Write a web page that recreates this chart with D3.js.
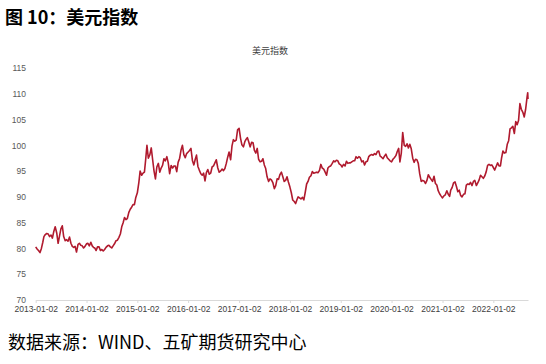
<!DOCTYPE html>
<html><head><meta charset="utf-8">
<script src="https://cdn.jsdelivr.net/npm/d3@7"></script>
<style>
html,body{margin:0;padding:0;background:#fff;}
svg{display:block;}
</style></head>
<body>
<svg id="c" width="546" height="364"></svg>
<script>
// Data: DXY, three readings per month (days 2, 12, 22)
const startMonth = "2013-01";
const sampleDays = [2, 12, 22];
const values = [
// 2013
80.3,79.9,79.6, 79.2,80.0,81.2, 82.3,82.7,82.9, 82.8,82.3,82.6, 82.0,83.3,84.2, 83.0,81.0,82.4,
83.8,84.4,82.3, 81.5,81.7,81.4, 82.2,81.0,80.4, 80.2,80.4,79.3, 80.8,81.0,80.6, 80.5,80.1,80.4,
// 2014
80.9,81.0,80.5, 81.2,80.5,80.2, 80.1,79.6,80.3, 80.3,79.6,79.8, 79.5,79.8,80.2, 80.5,80.6,80.3,
80.1,80.5,80.9, 81.5,81.6,82.1, 82.8,84.2,85.0, 86.0,85.6,85.8, 87.0,87.6,88.0, 88.5,88.5,89.9,
// 2015
90.8,92.6,95.0, 94.2,94.6,94.8, 97.0,100.0,97.5, 98.2,99.5,97.2, 95.0,93.5,95.8, 96.5,94.8,95.6,
96.1,97.4,97.0, 97.8,96.6,94.5, 96.1,95.6,96.0, 96.0,94.9,96.7, 97.5,99.1,100.0, 98.2,97.6,98.4,
// 2016
98.7,99.0,99.4, 97.0,96.2,97.3, 98.1,95.9,95.2, 94.5,94.2,94.6, 93.1,94.7,95.3, 94.4,94.6,95.8,
96.0,96.6,97.2, 95.6,94.8,95.0, 95.4,95.1,95.5, 96.5,97.7,98.7, 97.2,99.9,101.1, 100.8,101.0,103.0,
// 2017
103.3,101.4,100.1, 99.7,100.7,101.2, 101.5,100.7,99.7, 100.6,100.5,99.0, 98.5,99.4,97.3, 96.8,96.9,97.4,
96.2,95.5,93.9, 93.0,93.5,93.3, 92.7,91.6,92.2, 93.5,93.4,94.3, 94.8,93.9,93.0, 93.2,93.9,92.9,
// 2018
91.9,90.8,89.4, 89.1,88.7,89.5, 90.0,89.8,89.6, 89.9,89.4,90.9, 92.5,93.0,93.8, 94.1,94.9,94.6,
94.7,94.8,94.7, 95.1,96.3,95.6, 95.4,94.8,94.2, 95.6,95.9,96.0, 96.5,97.0,96.8, 97.1,97.0,96.4,
// 2019
96.2,95.8,96.3, 96.0,96.9,96.5, 96.6,96.6,96.8, 97.0,97.0,97.8, 97.5,97.8,97.6, 96.8,97.0,96.2,
96.8,96.9,97.8, 98.1,98.2,98.1, 98.4,98.2,98.8, 98.9,97.9,97.7, 97.4,97.9,98.3, 97.6,97.3,97.0,
// 2020
96.8,97.3,97.6, 98.0,98.8,99.4, 96.8,98.5,102.5, 100.0,99.8,100.3, 99.5,100.2,99.4, 97.5,96.7,97.3,
97.2,96.5,94.5, 93.0,93.2,93.1, 92.6,93.2,94.3, 93.8,93.4,93.0, 94.0,92.6,92.3, 91.2,90.6,90.2,
// 2021
89.8,90.2,90.4, 91.2,90.5,90.1, 91.3,91.8,92.7, 92.9,92.0,91.0, 91.3,90.3,90.0, 90.5,90.6,92.3,
92.5,92.4,92.8, 92.2,93.0,93.2, 92.2,92.7,93.3, 94.2,93.9,93.6, 94.1,94.9,96.1, 96.3,96.1,96.2,
// 2022
95.7,95.2,95.9, 96.6,96.0,96.0, 97.5,98.9,98.5, 98.6,100.2,100.9, 103.2,103.4,103.7, 102.3,104.6,104.0,
104.8,108.1,107.0, 106.4,105.5,107.0
];
const tailDates = ["2022-09-02","2022-09-06","2022-09-08"];
const tailValues = [109.5,110.2,109.0];
const yTicks = [70,75,80,85,90,95,100,105,110,115];
const xTickLabels = ["2013-01-02","2014-01-02","2015-01-02","2016-01-02","2017-01-02","2018-01-02","2019-01-02","2020-01-02","2021-01-02","2022-01-02"];

const parse = d3.timeParse("%Y-%m-%d");
const start = d3.timeParse("%Y-%m")(startMonth);
const data = values.map((v,i)=>{
  const m = d3.timeMonth.offset(start, Math.floor(i/3));
  const d = new Date(m.getFullYear(), m.getMonth(), sampleDays[i%3]);
  return {date:d, value:v};
}).concat(tailDates.map((s,i)=>({date:parse(s), value:tailValues[i]})));

const svg = d3.select("#c");
const x = d3.scaleTime().domain([parse("2013-01-02"), parse("2022-09-08")]).range([35.7, 528]);
const y = d3.scaleLinear().domain([70,115]).range([300,68]);

// header
svg.append("text").attr("x",5).attr("y",24)
  .attr("font-family","'Noto Sans CJK SC', sans-serif").attr("font-weight","bold")
  .attr("font-size",18).attr("fill","#000").text("图 10：美元指数");
// chart title
svg.append("text").attr("x",270).attr("y",54).attr("text-anchor","middle")
  .attr("font-family","'Noto Sans CJK SC', sans-serif").attr("font-size",9)
  .attr("fill","#404040").text("美元指数");

// y axis labels
const yAxis = d3.axisLeft(y).tickValues(yTicks).tickSize(0).tickPadding(0);
const yg = svg.append("g").attr("transform","translate(26,0)").call(yAxis);
yg.select(".domain").remove();
yg.selectAll("text").attr("font-family","'Liberation Sans', Arial, sans-serif")
  .attr("font-size",8.5).attr("fill","#595959");

// x axis
const xAxis = d3.axisBottom(x).tickValues(xTickLabels.map(parse))
  .tickFormat(d3.timeFormat("%Y-%m-%d")).tickSize(3).tickSizeOuter(0).tickPadding(3);
const xg = svg.append("g").attr("transform","translate(0,300)").call(xAxis);
xg.select(".domain").attr("stroke","#d9d9d9");
xg.selectAll(".tick line").attr("stroke","#d9d9d9");
xg.selectAll("text").attr("font-family","'Liberation Sans', Arial, sans-serif")
  .attr("font-size",8.5).attr("fill","#404040");

// line
const line = d3.line().x(d=>x(d.date)).y(d=>y(d.value));
svg.append("path").datum(data).attr("d",line)
  .attr("fill","none").attr("stroke","#b01a2e").attr("stroke-width",1.6)
  .attr("stroke-linejoin","round");

// footer
svg.append("text").attr("x",8).attr("y",349)
  .attr("font-family","'Noto Sans CJK SC', sans-serif")
  .attr("font-size",18).attr("fill","#000").text("数据来源：WIND、五矿期货研究中心");
</script>
</body></html>
